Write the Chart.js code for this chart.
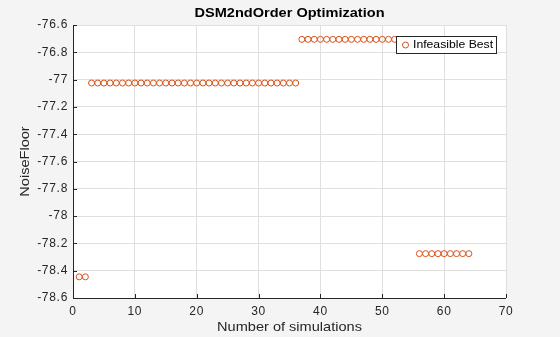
<!DOCTYPE html>
<html>
<head>
<meta charset="utf-8">
<script src="https://cdn.jsdelivr.net/npm/chart.js@4.4.4/dist/chart.umd.min.js"></script>
<style>
  html, body { margin: 0; padding: 0; background: #f4f4f4; }
  #wrap { width: 560px; height: 337px; position: relative; }
</style>
</head>
<body>
<div id="wrap"><canvas id="chart" width="560" height="337"></canvas></div>
<script>
// Values
const simulations = [
  1, 2,
  3, 4, 5, 6, 7, 8, 9, 10, 11, 12, 13, 14, 15, 16, 17, 18, 19, 20,
  21, 22, 23, 24, 25, 26, 27, 28, 29, 30, 31, 32, 33, 34, 35, 36,
  37, 38, 39, 40, 41, 42, 43, 44, 45, 46, 47, 48, 49, 50, 51, 52, 53, 54, 55,
  56, 57, 58, 59, 60, 61, 62, 63, 64,
];
const noiseFloor = [
  -78.445, -78.445,
  -77.025, -77.025, -77.025, -77.025, -77.025, -77.025, -77.025, -77.025, -77.025, -77.025,
  -77.025, -77.025, -77.025, -77.025, -77.025, -77.025, -77.025, -77.025, -77.025, -77.025,
  -77.025, -77.025, -77.025, -77.025, -77.025, -77.025, -77.025, -77.025, -77.025, -77.025,
  -77.025, -77.025, -77.025, -77.025,
  -76.705, -76.705, -76.705, -76.705, -76.705, -76.705, -76.705, -76.705, -76.705, -76.705,
  -76.705, -76.705, -76.705, -76.705, -76.705, -76.705, -76.705, -76.705, -76.705,
  -78.275, -78.275, -78.275, -78.275, -78.275, -78.275, -78.275, -78.275, -78.275,
];
const xTicks = [0, 10, 20, 30, 40, 50, 60, 70];
const yTicks = [-76.6, -76.8, -77, -77.2, -77.4, -77.6, -77.8, -78, -78.2, -78.4, -78.6];

const seriesName = 'Infeasible Best';
const chartTitle = 'DSM2ndOrder Optimization';
const xTitle = 'Number of simulations';
const yTitle = 'NoiseFloor';

const ORANGE = 'rgb(217, 83, 25)';
const AXIS = '#262626';
const GRID = 'rgb(223, 223, 223)';
const FONT = '"Liberation Sans", Arial, Helvetica, sans-serif';

// the reference glyphs are a bit wider than Liberation Sans, so stretch them
function wideText(ctx, text, x, y, stretch, rotate) {
  ctx.save();
  ctx.translate(x, y);
  if (rotate) ctx.rotate(-Math.PI / 2);
  ctx.scale(stretch, 1);
  ctx.fillText(text, 0, 0);
  ctx.restore();
}

// MATLAB-ish decorations: white plot box, inward ticks, title, axis labels, boxed legend
const matlabLook = {
  id: 'matlabLook',
  beforeDraw(chart) {
    const { ctx, chartArea: a } = chart;
    ctx.save();
    ctx.fillStyle = '#ffffff';
    ctx.fillRect(a.left, a.top, a.right - a.left, a.bottom - a.top);
    ctx.restore();
    ctx.letterSpacing = '0.7px'; // for the tick labels
  },
  afterDatasetsDraw(chart) {
    const { ctx, chartArea: a, scales } = chart;
    ctx.save();
    ctx.letterSpacing = '0px';

    // axis lines (left + bottom)
    ctx.strokeStyle = AXIS;
    ctx.lineWidth = 1;
    ctx.beginPath();
    ctx.moveTo(a.left + 0.5, a.top);
    ctx.lineTo(a.left + 0.5, a.bottom + 0.5);
    ctx.lineTo(a.right, a.bottom + 0.5);
    ctx.stroke();

    // inward tick marks
    ctx.beginPath();
    xTicks.forEach((v) => {
      const px = Math.round(scales.x.getPixelForValue(v)) + 0.5;
      ctx.moveTo(px, a.bottom);
      ctx.lineTo(px, a.bottom - 4);
    });
    yTicks.forEach((v) => {
      const py = Math.round(scales.y.getPixelForValue(v)) + 0.5;
      ctx.moveTo(a.left, py);
      ctx.lineTo(a.left + 4, py);
    });
    ctx.stroke();

    // title
    ctx.fillStyle = '#000000';
    ctx.font = `bold 13px ${FONT}`;
    ctx.textAlign = 'center';
    ctx.textBaseline = 'middle';
    wideText(ctx, chartTitle, (a.left + a.right) / 2, 13, 1.12);

    // axis titles
    ctx.fillStyle = AXIS;
    ctx.font = `13px ${FONT}`;
    wideText(ctx, xTitle, (a.left + a.right) / 2, 327, 1.12);
    wideText(ctx, yTitle, 25, (a.top + a.bottom) / 2, 1.12, true);

    // legend box (opaque, drawn over the markers)
    const lx = 396, ly = 36, lw = 100, lh = 17;
    ctx.fillStyle = '#ffffff';
    ctx.fillRect(lx, ly, lw, lh);
    ctx.strokeStyle = AXIS;
    ctx.strokeRect(lx + 0.5, ly + 0.5, lw, lh);
    ctx.strokeStyle = ORANGE;
    ctx.beginPath();
    ctx.arc(lx + 9.5, ly + 9, 3, 0, Math.PI * 2);
    ctx.stroke();
    ctx.fillStyle = '#000000';
    ctx.font = `11px ${FONT}`;
    ctx.textAlign = 'left';
    wideText(ctx, seriesName, lx + 17, ly + 9, 1.11);

    ctx.restore();
  },
  afterDraw(chart) {
    chart.ctx.letterSpacing = '0px';
  },
};

new Chart(document.getElementById('chart'), {
  type: 'scatter',
  data: {
    datasets: [
      {
        label: seriesName,
        data: simulations.map((x, i) => ({ x, y: noiseFloor[i] })),
        pointStyle: 'circle',
        pointRadius: 3,
        pointHoverRadius: 3,
        borderColor: ORANGE,
        backgroundColor: 'rgba(0,0,0,0)',
        borderWidth: 1,
      },
    ],
  },
  options: {
    responsive: false,
    animation: false,
    devicePixelRatio: 1,
    layout: { padding: { top: 25, right: 54, left: 0, bottom: 0 } },
    plugins: {
      legend: { display: false },
      title: { display: false },
      tooltip: { enabled: false },
    },
    scales: {
      x: {
        type: 'linear',
        min: 0,
        max: 70,
        afterBuildTicks: (s) => { s.ticks = xTicks.map((value) => ({ value })); },
        afterFit: (s) => { s.height = 39; },
        grid: { color: GRID, drawTicks: false },
        border: { display: false },
        ticks: { color: AXIS, padding: 6, maxRotation: 0, font: { family: FONT, size: 12 } },
      },
      y: {
        type: 'linear',
        min: -78.6,
        max: -76.6,
        afterBuildTicks: (s) => { s.ticks = yTicks.map((value) => ({ value })); },
        afterFit: (s) => { s.width = 73; },
        grid: { color: GRID, drawTicks: false },
        border: { display: false },
        ticks: {
          color: AXIS,
          padding: 5,
          font: { family: FONT, size: 12 },
          callback: (v) => String(Math.round(v * 10) / 10),
        },
      },
    },
  },
  plugins: [matlabLook],
});
</script>
</body>
</html>
